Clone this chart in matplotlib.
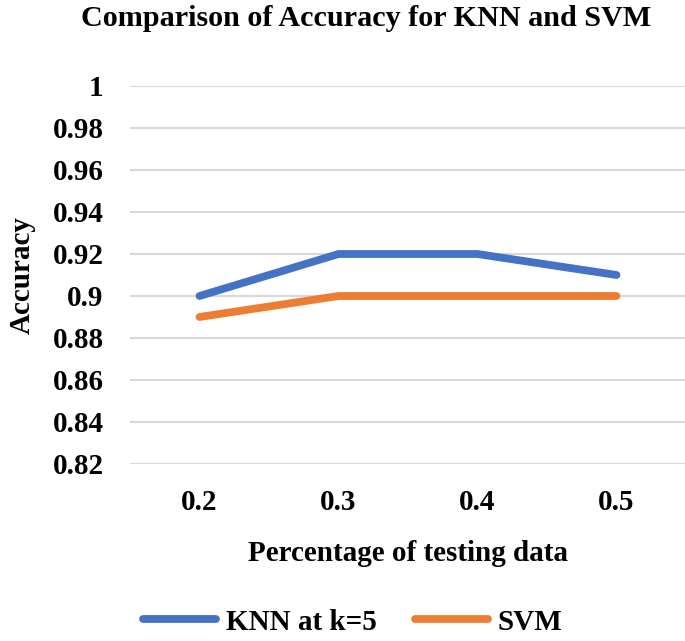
import matplotlib
matplotlib.use("Agg")
import matplotlib.pyplot as plt
from matplotlib.lines import Line2D

# data
test_pct = ["0.2", "0.3", "0.4", "0.5"]
knn_acc = [0.90, 0.92, 0.92, 0.91]
svm_acc = [0.89, 0.90, 0.90, 0.90]
y_ticks = [0.82, 0.84, 0.86, 0.88, 0.90, 0.92, 0.94, 0.96, 0.98, 1.00]
y_tick_labels = ["0.82", "0.84", "0.86", "0.88", "0.9", "0.92", "0.94", "0.96", "0.98", "1"]

BLUE = "#4472C4"
ORANGE = "#ED7D31"
FS = 21
LW = 5.6

plt.rcParams['font.family'] = ['Liberation Serif', 'DejaVu Serif']
plt.rcParams['font.weight'] = 'bold'

fig = plt.figure(figsize=(6.85, 6.41), dpi=100)
ax = fig.add_axes([130 / 685, 1 - 464 / 641, 556 / 685, 378 / 641])

x = range(len(test_pct))
ax.plot(x, knn_acc, color=BLUE, linewidth=LW, solid_capstyle='round',
        solid_joinstyle='round', label='KNN at k=5', zorder=3)
ax.plot(x, svm_acc, color=ORANGE, linewidth=LW, solid_capstyle='round',
        solid_joinstyle='round', label='SVM', zorder=3)

ax.set_xlim(-0.5, 3.5)
ax.set_ylim(0.82, 1.0)
ax.set_xticks(list(x))
ax.set_xticklabels(test_pct)
ax.set_yticks(y_ticks)
ax.set_yticklabels(y_tick_labels)
ax.tick_params(axis='both', length=0, labelsize=FS)
ax.tick_params(axis='y', pad=19)
ax.tick_params(axis='x', pad=18)
for lbl in ax.get_xticklabels() + ax.get_yticklabels():
    lbl.set_fontweight('bold')

ax.grid(axis='y', color='#D9D9D9', linewidth=1.5, zorder=0)
for s in ax.spines.values():
    s.set_visible(False)

ax.set_xlabel('Percentage of testing data', fontsize=FS, fontweight='bold', labelpad=17)
ax.set_ylabel('Accuracy', fontsize=FS, fontweight='bold', labelpad=12)
fig.text(0.535, 1 - 18 / 641, 'Comparison of Accuracy for KNN and SVM',
         ha='center', va='center', fontsize=21.7, fontweight='bold')

handles = [Line2D([0], [0], color=BLUE, linewidth=LW, solid_capstyle='round'),
           Line2D([0], [0], color=ORANGE, linewidth=LW, solid_capstyle='round')]
fig.legend(handles, ['KNN at k=5', 'SVM'], loc='center',
           bbox_to_anchor=(353 / 685, 1 - 622 / 641), ncol=2, frameon=False,
           prop={'size': FS, 'weight': 'bold'}, handlelength=2.5,
           columnspacing=1.3, handletextpad=0.34)

fig.savefig('out.png', dpi=100)
